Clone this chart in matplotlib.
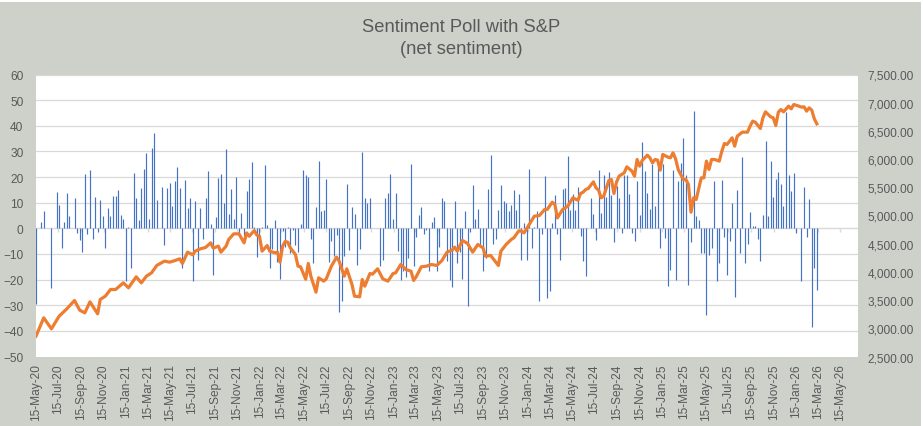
import numpy as np
import pandas as pd
import matplotlib
matplotlib.use("Agg")
import matplotlib.pyplot as plt
import matplotlib.dates as mdates
from matplotlib import font_manager as fm
from matplotlib.patches import Rectangle

# ---------------- data ----------------
start_date = "2020-05-15"   # week 0 (Fridays)

bar_weeks = [0, 2, 3, 6, 8, 9, 10, 11, 12, 13, 15, 16, 17, 18, 19, 20, 21, 22, 23, 24, 25, 26, 27, 28, 29,
             30, 31, 32, 33, 34, 35, 36, 37, 38, 39, 40, 41, 42, 43, 44, 45, 46, 47, 49, 50, 51, 52, 53, 54,
             55, 56, 57, 58, 59, 60, 61, 62, 63, 64, 65, 66, 67, 68, 69, 70, 71, 72, 73, 74, 75, 76, 77, 78,
             79, 80, 81, 82, 83, 84, 85, 86, 87, 88, 89, 90, 91, 92, 93, 94, 95, 96, 97, 98, 99, 100, 101,
             102, 103, 104, 105, 106, 107, 108, 109, 110, 111, 112, 113, 114, 115, 116, 117, 118, 119, 120,
             121, 122, 123, 124, 125, 126, 127, 128, 129, 130, 134, 135, 136, 137, 138, 139, 140, 141, 142,
             143, 144, 145, 146, 147, 148, 149, 150, 151, 152, 153, 154, 155, 156, 157, 158, 159, 160, 161,
             162, 163, 164, 165, 166, 167, 168, 169, 170, 171, 172, 173, 174, 175, 176, 177, 178, 179, 180,
             181, 182, 183, 184, 185, 186, 187, 188, 189, 190, 191, 192, 193, 194, 195, 196, 197, 198, 199,
             200, 201, 202, 203, 204, 205, 206, 207, 208, 209, 210, 211, 212, 213, 214, 216, 217, 218, 219,
             220, 221, 222, 223, 224, 225, 226, 227, 228, 229, 230, 231, 232, 233, 234, 235, 236, 237, 238,
             239, 240, 241, 242, 243, 244, 245, 246, 247, 248, 249, 250, 251, 252, 253, 254, 255, 256, 257,
             258, 259, 260, 261, 262, 263, 264, 265, 266, 267, 268, 269, 270, 271, 272, 273, 274, 275, 276,
             277, 278, 279, 280, 281, 282, 283, 284, 285, 286, 287, 288, 289, 290, 291, 292, 293, 294, 295,
             296, 298, 299, 300, 301, 302, 303, 304]
net_sentiment = [-29.5, 2.3, 6.6, -23.3, 14, 9.1, -7.7, 2.3, 13.7, 4.8, 11.7, -1.8, -4.4, -9.1, 21, -2.1, 22.8,
                 -4.2, 12.2, -1.6, 11, 4.8, -7.7, 7.9, 4.8, 12.6, 12.6, 15, 5.2, 3.5, -20.7, 0.5, -15.5, 21.6,
                 11.8, 3.3, 15.7, 23.1, 29.4, 3.5, 31.3, 37.2, 11, 16.1, -6.4, 15.7, 17.7, 8.7, 18.5, 23.8,
                 15.7, -15.5, 18.9, 7.9, 11.8, -20.4, 10.7, -12.2, 7.9, -4, 11.8, 22.4, 1.7, -18.1, 4.4, 19.6,
                 21.2, 9.9, 30.9, 5.6, 15.3, 3.6, 20, -2.6, 6, -2.9, 14.6, 19.2, 25.9, 0.5, -11, -2.9, 0.5,
                 24.7, 1.3, -15.5, -8.1, 3.3, -13, -19.8, -0.9, -7.2, 0.5, -9.5, -0.5, -6.4, -9.1, 1.7, 22.8,
                 20.8, 20, -4.2, -13.7, 8.3, 26.3, 6.8, 7.2, 19.2, -13, -4.8, -10.7, -2.5, -32.5, -28.2, -10.7,
                 17.3, -8.3, 8.3, 5.6, -14.2, -7.9, 29.8, 11.8, 9.9, 11.8, -14.6, -12.2, 11.8, 13.8, 21.2, 3.6,
                 13.8, -8.7, -20, -16.5, -18.9, -11.4, 25.1, -14.6, -3.3, 5.2, 8.3, -2.1, -0.5, -16.5, 2.5,
                 4.4, -16.5, -7.2, 11.8, 10.7, -12.6, -20, -22.8, 10.7, -13.4, -9.1, -19.6, 6.8, -30.2, -1.3,
                 16.9, 3.6, 7.5, -6.8, -16.5, -11.4, 15.3, 28.6, -6, -4, 7.2, 16.9, 10.7, 9.9, 6.8, 9.1, 15,
                 7.2, 13.4, -12.2, 2.1, -12.2, 23.1, -7.5, 0.5, 6.8, -28.2, -2.1, 20.4, -27, -24.3, 2.1, 13,
                 -2.1, -12.2, 15.3, 15.7, 28.2, 7.2, 13.4, 7.2, 16.1, -2.9, -12.6, -18.5, 11.8, 5.6, -4.4,
                 22.8, 6, 20.8, 12.2, 22, 13, -5.2, 16.5, 11.8, -1.7, 20.8, 20.8, 13.4, -1.7, -4.8, 18.5, 5.2,
                 33.7, 22.4, 13.8, 7.5, 25.1, 8.7, 25.9, -7.5, 25.1, -3.6, -22.4, -16.1, 22.8, -20, 18.5,
                 25.5, 35.2, 20.8, -22, -5.2, 45.8, 4.8, 3.3, -9.5, -9.5, -33.7, -10.3, -7.5, 18.5, -20.4,
                 -13.4, 18.9, -3.3, -18.1, -4.8, 9.9, -26.7, 15, -9.5, 27.8, -13.4, -6, 6.4, 0.9, 0.9, -4,
                 -12.6, 5.2, 34.1, 4.8, 26.3, 12.2, 19.2, 22, 17.3, 8.7, 45.5, 20.8, 14.6, 21.6, -1.7, -20.4,
                 16.1, -3.3, 11.4, -38.4, -15.5, -23.9]

sp_weeks = [0, 3, 6, 9, 12, 15, 17, 19, 21, 24, 25, 27, 29, 31, 34, 36, 39, 41, 43, 45, 47, 50, 52, 54, 56,
            57, 59, 61, 62, 64, 66, 68, 69, 71, 72, 74, 75, 77, 79, 81, 82, 83, 85, 86, 87, 88, 90, 91, 93,
            94, 95, 96, 97, 98, 99, 101, 102, 103, 105, 106, 107, 109, 110, 112, 113, 115, 117, 118, 120,
            121, 123, 124, 126, 127, 128, 130, 131, 133, 135, 137, 139, 140, 142, 144, 146, 147, 148, 150,
            152, 154, 156, 158, 160, 162, 163, 164, 166, 168, 170, 172, 174, 175, 177, 180, 181, 183, 185,
            186, 188, 189, 190, 192, 194, 196, 198, 199, 201, 202, 203, 205, 207, 209, 211, 212, 213, 214,
            215, 217, 218, 219, 220, 221, 223, 224, 225, 226, 227, 229, 230, 232, 233, 234, 235, 236, 238,
            239, 240, 241, 242, 243, 244, 246, 247, 248, 249, 250, 252, 253, 254, 255, 256, 257, 258, 259,
            260, 261, 262, 263, 264, 265, 266, 267, 268, 269, 271, 272, 273, 275, 277, 278, 279, 280, 282,
            283, 284, 286, 287, 288, 289, 290, 291, 293, 294, 295, 297, 298, 299, 300, 301, 302, 303, 304]
sp_close = [2861, 3186, 2991, 3215, 3345, 3493, 3322, 3274, 3469, 3257, 3511, 3570, 3688, 3688, 3806, 3718,
            3913, 3806, 3925, 3984, 4114, 4191, 4173, 4200, 4232, 4149, 4350, 4303, 4368, 4409, 4433, 4515,
            4421, 4457, 4350, 4457, 4574, 4675, 4675, 4515, 4692, 4633, 4734, 4651, 4633, 4368, 4468, 4368,
            4338, 4350, 4173, 4456, 4539, 4527, 4427, 4308, 4102, 4090, 3870, 4150, 3924, 3641, 3895, 3836,
            3877, 4102, 4261, 4191, 3924, 4055, 3777, 3570, 3558, 3865, 3747, 3971, 3960, 4055, 3877, 3836,
            3971, 3983, 4131, 4043, 4013, 3848, 3913, 4090, 4102, 4131, 4114, 4200, 4350, 4386, 4439, 4368,
            4557, 4504, 4350, 4486, 4427, 4279, 4291, 4114, 4368, 4486, 4574, 4604, 4728, 4722, 4692, 4840,
            4988, 5000, 5106, 5106, 5236, 5194, 4958, 5106, 5165, 5313, 5270, 5390, 5414, 5461, 5479, 5597,
            5491, 5449, 5313, 5343, 5620, 5638, 5390, 5591, 5698, 5757, 5863, 5787, 5698, 5993, 5875, 5976,
            6070, 6023, 5934, 5993, 5981, 5804, 6082, 6035, 6023, 6111, 6005, 5816, 5638, 5638, 5550, 5059,
            5313, 5283, 5473, 5668, 5668, 5964, 5816, 5993, 5993, 5981, 5964, 6141, 6277, 6259, 6377, 6229,
            6407, 6478, 6478, 6584, 6673, 6655, 6543, 6732, 6838, 6749, 6732, 6596, 6832, 6879, 6838, 6939,
            6891, 6968, 6939, 6921, 6927, 6850, 6909, 6868, 6714, 6625]

title_lines = ["Sentiment Poll with S&P", "(net sentiment)"]

# ---------------- fonts ----------------
avail = {f.name for f in fm.fontManager.ttflist}
fam = "Liberation Sans Narrow" if "Liberation Sans Narrow" in avail else "Liberation Sans"
plt.rcParams["font.family"] = [fam, "DejaVu Sans"]

TXT = "#595959"
BG = "#CDD1CA"
GRID = "#D9D9D9"

W, H = 923, 427
fig = plt.figure(figsize=(W / 100, H / 100), dpi=100)
fig.patch.set_facecolor("white")
fig.patches.append(Rectangle((0, 0), 921 / W, 1 - 3 / H, transform=fig.transFigure,
                             facecolor=BG, edgecolor="none", zorder=-10))

L, R, T, B = 36, 858, 75.5, 357.5
ax = fig.add_axes([L / W, 1 - B / H, (R - L) / W, (B - T) / H])
ax.set_facecolor("white")

start = pd.Timestamp(start_date)
bar_dates = start + pd.to_timedelta(np.array(bar_weeks) * 7, unit="D")
sp_dates = start + pd.to_timedelta(np.array(sp_weeks) * 7, unit="D")

ax.set_ylim(-50, 60)
ax.set_yticks(np.arange(-50, 61, 10))
for v in np.arange(-40, 61, 10):
    if v != 0:
        ax.axhline(v, color=GRID, lw=0.9, zorder=0)
ax.axhline(0, color=GRID, lw=1.0, zorder=1)

tick_dates = pd.date_range("2020-05-01", "2026-05-01", freq="2MS") + pd.Timedelta(days=14)
ax.vlines(tick_dates, -1.6, 0, color=GRID, lw=1.0, zorder=1)

# net sentiment columns (thin Excel-style bars)
ax.vlines(bar_dates, 0, net_sentiment, color="#4472C4", lw=0.85, zorder=2)

xmin = mdates.date2num(pd.Timestamp("2020-05-15"))
xmax = xmin + (R - L) * 2191 / 804.0
ax.set_xlim(xmin, xmax)
ax.set_xticks(tick_dates)
ax.xaxis.set_major_formatter(mdates.DateFormatter("%d-%b-%y"))

for s in ax.spines.values():
    s.set_visible(False)
ax.tick_params(axis="x", length=0, pad=5, labelsize=8.6, labelcolor=TXT, labelrotation=90)
ax.tick_params(axis="y", length=0, pad=9, labelsize=8.6, labelcolor=TXT)

ax2 = ax.twinx()
ax2.plot(sp_dates, sp_close, color="#ED7D31", lw=2.3, solid_joinstyle="round", zorder=3)
ax2.set_ylim(2500, 7500)
ax2.set_yticks(np.arange(2500, 7501, 500))
ax2.yaxis.set_major_formatter(matplotlib.ticker.FuncFormatter(lambda v, p: f"{v:,.2f}"))
for s in ax2.spines.values():
    s.set_visible(False)
ax2.tick_params(axis="y", length=0, pad=7, labelsize=8.6, labelcolor=TXT)
ax2.set_xlim(xmin, xmax)

fig.text(0.5, 1 - 27 / H, title_lines[0], ha="center", va="center", fontsize=13.2, color=TXT)
fig.text(0.5, 1 - 49 / H, title_lines[1], ha="center", va="center", fontsize=13.2, color=TXT)

fig.savefig("out.png", dpi=100, facecolor=fig.get_facecolor())
